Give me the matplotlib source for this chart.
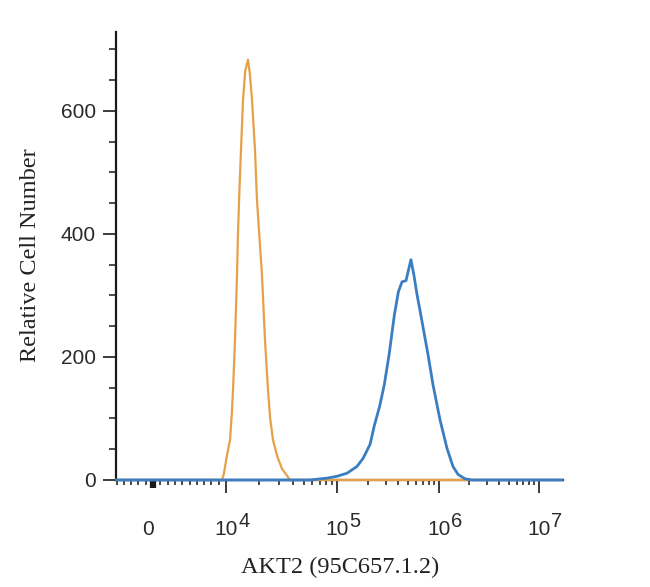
import numpy as np
import matplotlib
matplotlib.use("Agg")
import matplotlib.pyplot as plt

# histogram outlines (intensity, cell count)
orange_x = [-5000, 9450, 9700, 9990, 10400, 10870, 11300, 11560, 11800, 12050, 12300,
            12560, 12820, 13200, 13650, 14230, 14900, 15780, 16400, 17140, 18240,
            19010, 20000, 21090, 22440, 23890, 25000, 26500, 29000, 32000, 37800, 1.7e7]
orange_y = [0, 0, 10, 30, 48, 65, 110, 146, 185, 228, 280,
            333, 400, 470, 537, 618, 665, 683, 660, 618, 537,
            455, 395, 333, 228, 146, 100, 65, 38, 18, 0, 0]

blue_x = [-5000, 57100, 81300, 100000, 125400, 157000, 180000, 211000, 232000, 262000,
          291000, 325000, 365000, 400000, 434000, 475000, 497000, 531000, 569000, 608000,
          681000, 780000, 873000, 1023000, 1200000, 1380000, 1550000, 1820000, 2140000, 1.7e7]
blue_y = [0, 0, 3, 6, 11, 22, 35, 58, 88, 120,
          155, 205, 268, 306, 322, 324, 338, 358, 332, 302,
          258, 204, 155, 98, 52, 22, 9, 2, 0, 0]

x_ticks = [0, 1e4, 1e5, 1e6, 1e7]
x_base = ["0", "10", "10", "10", "10"]
x_exp = ["", "4", "5", "6", "7"]
y_ticks = [0, 200, 400, 600]

# biexponential-like display scale: linear up to 1e4, then log decades
KNOT_LOG = [4, 5, 6, 7, 8]
KNOT_U = [0.73, 1.84, 2.86, 3.86, 4.86]


def fwd(x):
    x = np.asarray(x, float)
    lg = np.log10(np.where(x > 1e4, x, 1e4))
    return np.where(x > 1e4, np.interp(lg, KNOT_LOG, KNOT_U), 0.73 * x / 1e4)


def inv(u):
    u = np.asarray(u, float)
    lg = np.interp(np.maximum(u, 0.73), KNOT_U, KNOT_LOG)
    return np.where(u > 0.73, 10 ** lg, u / 0.73 * 1e4)


fig = plt.figure(figsize=(6.5, 5.87), dpi=100)
ax = fig.add_axes([0.1785, 0.1823, 0.6877, 0.7632])
ax.set_xscale("function", functions=(fwd, inv))

ax.plot(orange_x, orange_y, color="#E6A048", lw=1.6, zorder=3, clip_on=False)
ax.plot(blue_x, blue_y, color="#3B7DC2", lw=2.0, zorder=4, clip_on=False)

ax.set_xlim(-5068, 1.74e7)
ax.set_ylim(0, 728)

for s in ["top", "right"]:
    ax.spines[s].set_visible(False)
for s in ["left", "bottom"]:
    ax.spines[s].set_linewidth(1.6)
    ax.spines[s].set_color("#1a1a1a")

# y axis
ax.set_yticks(y_ticks)
ax.set_yticks([v for v in range(50, 701, 50) if v not in y_ticks], minor=True)
ax.tick_params(axis="y", which="major", length=9.5, width=1.2, pad=5,
               labelsize=15, colors="#1a1a1a")
ax.tick_params(axis="y", which="minor", length=5, width=1.1, colors="#1a1a1a")
for lbl in ax.get_yticklabels():
    lbl.set_fontfamily("Liberation Sans")
    lbl.set_color("#2a2a2a")

# x axis
minor = [-1000 * k for k in range(1, 6)] + [1000 * k for k in range(1, 10)]
for d in [1e4, 1e5, 1e6]:
    minor += [d * k for k in range(2, 10)]
ax.set_xticks(x_ticks)
ax.set_xticklabels([])
ax.set_xticks(minor, minor=True)
ax.tick_params(axis="x", which="major", length=9.5, width=1.2, colors="#1a1a1a")
ax.tick_params(axis="x", which="minor", length=3.6, width=1.1, colors="#1a1a1a")
zero_tick = ax.xaxis.get_major_ticks()[0]
zero_tick.tick1line.set_markersize(5.5)
zero_tick.tick1line.set_markeredgewidth(4.5)

trans = ax.get_xaxis_transform()
for xv, b, e in zip(x_ticks, x_base, x_exp):
    if e == "":
        ax.annotate(b, xy=(xv, 0), xycoords=trans, xytext=(-5, -55),
                    textcoords="offset pixels", ha="center", va="baseline",
                    fontsize=15, family="Liberation Sans", color="#2a2a2a")
    else:
        ax.annotate(b, xy=(xv, 0), xycoords=trans, xytext=(0, -55),
                    textcoords="offset pixels", ha="center", va="baseline",
                    fontsize=15, family="Liberation Sans", color="#2a2a2a")
        ax.annotate(e, xy=(xv, 0), xycoords=trans, xytext=(12, -47),
                    textcoords="offset pixels", ha="left", va="baseline",
                    fontsize=14.5, family="Liberation Sans", color="#2a2a2a")

fig.text(340 / 650, (587 - 567) / 587, "AKT2 (95C657.1.2)", ha="center", va="center",
         fontsize=17.5, family="Liberation Serif", color="#222222")
fig.text(31 / 650, (587 - 255) / 587, "Relative Cell Number", ha="center", va="center",
         rotation=90, fontsize=17.5, family="Liberation Serif", color="#222222")

fig.savefig("out.png", dpi=100)
